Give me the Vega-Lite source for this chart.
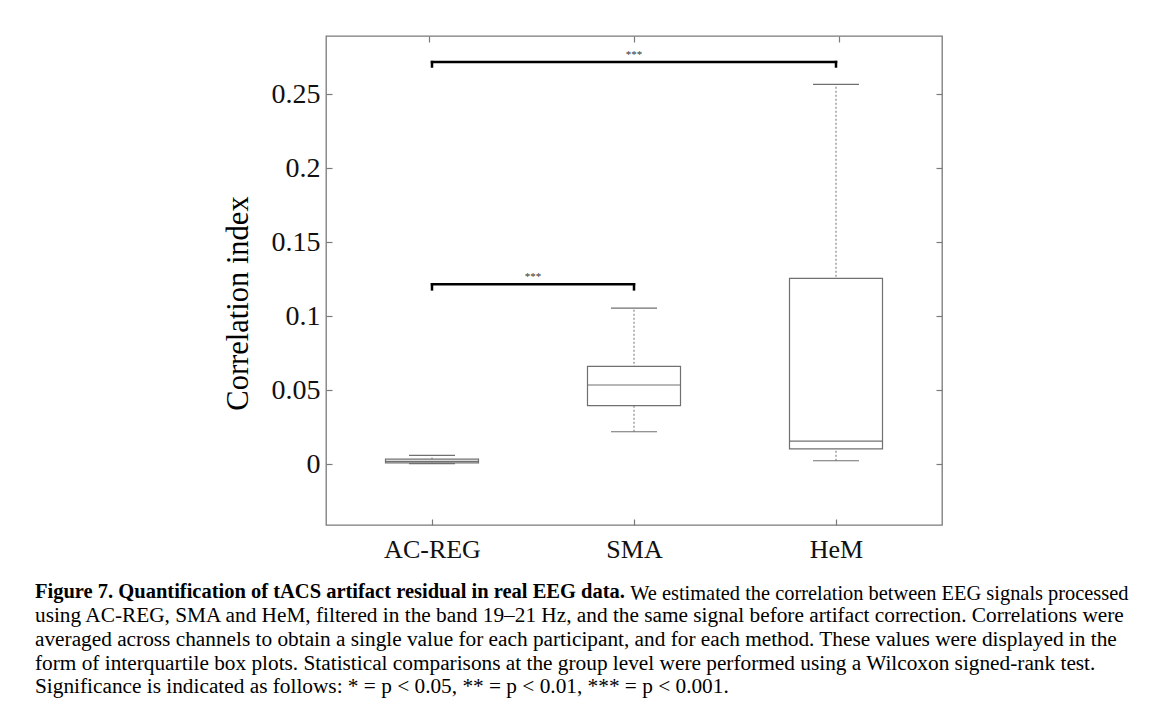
{
  "$schema": "https://vega.github.io/schema/vega-lite/v6.json",
  "width": 616,
  "height": 489,
  "autosize": {"type": "none"},
  "padding": {"left": 326, "top": 36, "right": 227, "bottom": 199},
  "background": "white",
  "config": {
    "view": {"stroke": "#7a7a7a", "strokeWidth": 1.3},
    "axis": {"grid": false, "domain": false, "tickColor": "#7a7a7a", "tickWidth": 1.2, "labelColor": "#111111", "labelFont": "Liberation Serif", "titleFont": "Liberation Serif", "titleFontWeight": "normal", "titleColor": "#000000"}
  },
  "title": {
    "text": "Figure 7. Quantification of tACS artifact residual in real EEG data.",
    "subtitle": [
      "using AC-REG, SMA and HeM, filtered in the band 19–21 Hz, and the same signal before artifact correction. Correlations were",
      "averaged across channels to obtain a single value for each participant, and for each method. These values were displayed in the",
      "form of interquartile box plots. Statistical comparisons at the group level were performed using a Wilcoxon signed-rank test.",
      "Significance is indicated as follows: * = p < 0.05, ** = p < 0.01, *** = p < 0.001."
    ],
    "orient": "bottom",
    "anchor": "start",
    "frame": "group",
    "offset": 0,
    "dx": -291,
    "dy": -21.5,
    "font": "Liberation Serif",
    "fontSize": 20.5,
    "fontWeight": "bold",
    "color": "#000000",
    "subtitleFont": "Liberation Serif",
    "subtitleFontSize": 21.3,
    "subtitleFontWeight": "normal",
    "subtitleColor": "#000000",
    "subtitleLineHeight": 23.7,
    "subtitlePadding": 2.8
  },
  "datasets": {
    "boxes": [
      {"method": "AC-REG", "pos": 1, "lower": 0.0003, "q1": 0.0008, "median": 0.0018, "q3": 0.0033, "upper": 0.0058},
      {"method": "SMA", "pos": 2, "lower": 0.0218, "q1": 0.0394, "median": 0.0534, "q3": 0.066, "upper": 0.1054},
      {"method": "HeM", "pos": 3, "lower": 0.0022, "q1": 0.0103, "median": 0.0155, "q3": 0.1255, "upper": 0.2565}
    ],
    "brackets": [
      {"x1": 1, "x2": 3, "y": 0.2716, "yEnd": 0.2686, "mid": 2, "label": "***"},
      {"x1": 1, "x2": 2, "y": 0.1214, "yEnd": 0.118, "mid": 1.5, "label": "***"}
    ]
  },
  "layer": [
    {
      "layer": [
        {
          "data": {"name": "boxes"},
          "mark": {"type": "rule", "color": "#707070", "strokeDash": [2, 2], "strokeWidth": 1},
          "encoding": {
            "x": {
              "field": "pos", "type": "quantitative",
              "scale": {"domain": [0.5, 3.5], "nice": false, "zero": false},
              "axis": {
                "values": [1, 2, 3],
                "labelExpr": "datum.value == 1 ? 'AC-REG' : datum.value == 2 ? 'SMA' : 'HeM'",
                "tickSize": -6, "labelPadding": 17, "labelFontSize": 26,
                "title": null
              }
            },
            "y": {
              "field": "lower", "type": "quantitative",
              "scale": {"domain": [-0.0412, 0.2892], "nice": false, "zero": false},
              "axis": {
                "values": [0, 0.05, 0.1, 0.15, 0.2, 0.25], "format": "~g",
                "tickSize": -6, "labelPadding": 12, "labelFontSize": 28,
                "title": "Correlation index",
                "titleFont": "Liberation Serif", "titleFontSize": 30.5, "titleFontWeight": "normal", "titleColor": "#000000",
                "titleX": -79, "titleY": 267, "titleAngle": -90, "titleAlign": "center", "titleBaseline": "alphabetic"
              }
            },
            "y2": {"field": "upper"}
          }
        },
        {
          "data": {"name": "boxes"},
          "mark": {"type": "bar", "size": 93, "fill": "white", "stroke": "#707070", "strokeWidth": 1.2},
          "encoding": {
            "x": {"field": "pos", "type": "quantitative"},
            "y": {"field": "q1", "type": "quantitative"},
            "y2": {"field": "q3"}
          }
        },
        {
          "data": {"name": "boxes"},
          "mark": {"type": "tick", "orient": "horizontal", "size": 93, "thickness": 1.2, "color": "#707070", "opacity": 1},
          "encoding": {
            "x": {"field": "pos", "type": "quantitative"},
            "y": {"field": "median", "type": "quantitative"}
          }
        },
        {
          "data": {"name": "boxes"},
          "mark": {"type": "tick", "orient": "horizontal", "size": 46, "thickness": 1.2, "color": "#707070", "opacity": 1},
          "encoding": {
            "x": {"field": "pos", "type": "quantitative"},
            "y": {"field": "upper", "type": "quantitative"}
          }
        },
        {
          "data": {"name": "boxes"},
          "mark": {"type": "tick", "orient": "horizontal", "size": 46, "thickness": 1.2, "color": "#707070", "opacity": 1},
          "encoding": {
            "x": {"field": "pos", "type": "quantitative"},
            "y": {"field": "lower", "type": "quantitative"}
          }
        },
        {
          "data": {"name": "brackets"},
          "mark": {"type": "rule", "color": "#000000", "strokeWidth": 2.5, "strokeCap": "square"},
          "encoding": {
            "x": {"field": "x1", "type": "quantitative"},
            "x2": {"field": "x2"},
            "y": {"field": "y", "type": "quantitative"}
          }
        },
        {
          "data": {"name": "brackets"},
          "mark": {"type": "rule", "color": "#000000", "strokeWidth": 2.5, "strokeCap": "square"},
          "encoding": {
            "x": {"field": "x1", "type": "quantitative"},
            "y": {"field": "y", "type": "quantitative"},
            "y2": {"field": "yEnd"}
          }
        },
        {
          "data": {"name": "brackets"},
          "mark": {"type": "rule", "color": "#000000", "strokeWidth": 2.5, "strokeCap": "square"},
          "encoding": {
            "x": {"field": "x2", "type": "quantitative"},
            "y": {"field": "y", "type": "quantitative"},
            "y2": {"field": "yEnd"}
          }
        },
        {
          "data": {"name": "brackets"},
          "mark": {"type": "text", "baseline": "alphabetic", "dy": -4, "fontSize": 11, "font": "Liberation Serif", "color": "#333333"},
          "encoding": {
            "x": {"field": "mid", "type": "quantitative"},
            "y": {"field": "y", "type": "quantitative"},
            "text": {"field": "label"}
          }
        }
      ]
    },
    {
      "data": {"name": "boxes"},
      "mark": {"type": "tick", "orient": "horizontal", "opacity": 0},
      "encoding": {
        "x": {
          "field": "pos", "type": "quantitative",
          "scale": {"domain": [0.5, 3.5], "nice": false, "zero": false},
          "axis": {"orient": "top", "values": [1, 2, 3], "labels": false, "tickSize": -6, "title": null}
        },
        "y": {
          "field": "upper", "type": "quantitative",
          "scale": {"domain": [-0.0412, 0.2892], "nice": false, "zero": false},
          "axis": {
            "orient": "right", "values": [0, 0.05, 0.1, 0.15, 0.2, 0.25], "labels": false, "tickSize": -6,
            "title": "We estimated the correlation between EEG signals processed",
            "titleAngle": 0, "titleX": 186, "titleY": 563, "titleAlign": "right", "titleBaseline": "alphabetic",
            "titleFont": "Liberation Serif", "titleFontSize": 20.4, "titleFontWeight": "normal", "titleColor": "#000000"
          }
        }
      }
    }
  ],
  "resolve": {"scale": {"x": "independent", "y": "independent"}}
}
